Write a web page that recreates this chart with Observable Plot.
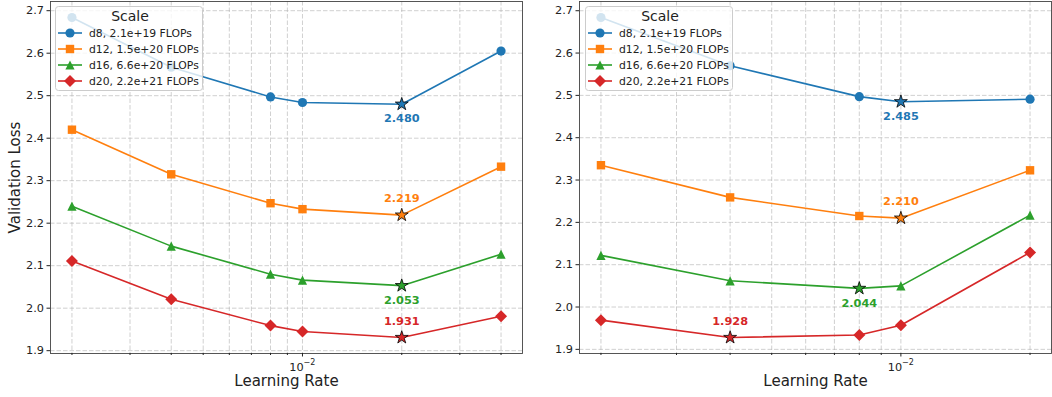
<!DOCTYPE html>
<html>
<head>
<meta charset="utf-8">
<script src="https://cdn.jsdelivr.net/npm/d3@7"></script>
<script src="https://cdn.jsdelivr.net/npm/@observablehq/plot@0.6"></script>
<style>
  body { margin: 0; background: #fff; }
  #fig { position: relative; width: 1052px; height: 397px; overflow: hidden; font-family: "DejaVu Sans", sans-serif; }
  .panel { position: absolute; top: 0; }
</style>
</head>
<body>
<div id="fig"></div>
<script>
// Model scales (legend entries), colours and marker shapes
const seriesLabels = ["d8, 2.1e+19 FLOPs", "d12, 1.5e+20 FLOPs", "d16, 6.6e+20 FLOPs", "d20, 2.2e+21 FLOPs"];
const seriesColors = ["#1f77b4", "#ff7f0e", "#2ca02c", "#d62728"];
const seriesShapes = ["circle", "square", "triangle", "diamond"];

// Left sweep: learning rates and validation loss per scale
const lrLeft = [0.002, 0.004, 0.008, 0.01, 0.02, 0.04];
const lossLeftD8  = [2.684, 2.567, 2.497, 2.484, 2.480, 2.605];
const lossLeftD12 = [2.420, 2.315, 2.247, 2.233, 2.219, 2.333];
const lossLeftD16 = [2.240, 2.146, 2.080, 2.066, 2.053, 2.127];
const lossLeftD20 = [2.111, 2.021, 1.959, 1.945, 1.931, 1.981];

// Right sweep
const lrRight = [0.002, 0.004, 0.008, 0.01, 0.02];
const lossRightD8  = [2.684, 2.570, 2.497, 2.485, 2.491];
const lossRightD12 = [2.335, 2.259, 2.215, 2.210, 2.323];
const lossRightD16 = [2.122, 2.062, 2.044, 2.050, 2.217];
const lossRightD20 = [1.969, 1.928, 1.934, 1.957, 2.129];

// Axis ticks: the labelled decade is written as base + exponent
const yTicks = [1.9, 2.0, 2.1, 2.2, 2.3, 2.4, 2.5, 2.6, 2.7];
const xMajorTicks = [0.01];
const xMajorBase = ["10"];
const xMajorExponent = ["−2"];

// Marker geometry (pixel sizes, independent of Plot's r)
const starR = 6.8;
const markerShapes = {
  circle:   { draw(c) { c.moveTo(4.6, 0); c.arc(0, 0, 4.6, 0, 2 * Math.PI); c.closePath(); } },
  square:   { draw(c) { c.rect(-4.2, -4.2, 8.4, 8.4); } },
  triangle: { draw(c) { c.moveTo(0, -4.6); c.lineTo(4.6, 4.6); c.lineTo(-4.6, 4.6); c.closePath(); } },
  diamond:  { draw(c) { c.moveTo(0, -6); c.lineTo(6, 0); c.lineTo(0, 6); c.lineTo(-6, 0); c.closePath(); } },
  star: {
    draw(c) {
      for (let i = 0; i < 10; ++i) {
        const a = -Math.PI / 2 + i * Math.PI / 5;
        const r = i % 2 ? starR * 0.382 : starR;
        const px = r * Math.cos(a), py = r * Math.sin(a);
        i ? c.lineTo(px, py) : c.moveTo(px, py);
      }
      c.closePath();
    }
  }
};

const gridStyle = { stroke: "#b0b0b0", strokeOpacity: 0.6, strokeDasharray: "4.5,2", strokeWidth: 1 };
const tickFont = 11.3;
const labelFont = 15;

function drawPanel({ lr, losses, left, width, marginLeft, marginRight, yLabel }) {
  const rows = losses.flatMap((vals, s) => vals.map((loss, i) => ({ lr: lr[i], loss, s, key: seriesLabels[s] })));
  const best = losses.map((vals, s) => {
    const i = d3.minIndex(vals);
    return rows.find(r => r.s === s && r.lr === lr[i]);
  });

  // 5% margins on both scales (log-space for x)
  const [x0, x1] = d3.extent(lr);
  const xp = Math.pow(x1 / x0, 0.05);
  const xDomain = [x0 / xp, x1 * xp];
  const [y0, y1] = d3.extent(rows, d => d.loss);
  const yp = (y1 - y0) * 0.05;
  const yDomain = [y0 - yp, y1 + yp];

  const xGridTicks = d3.scaleLog().domain(xDomain).ticks();
  const xMinorTicks = xGridTicks.filter(t => !xMajorTicks.some(m => Math.abs(m - t) < 1e-12));

  const marks = [
    Plot.gridY({ ticks: yTicks, ...gridStyle }),
    Plot.gridX({ ticks: xGridTicks, ...gridStyle }),
    Plot.line(rows, { x: "lr", y: "loss", z: "key", stroke: "key", strokeWidth: 1.6 }),
    ...seriesShapes.map((shape, s) =>
      Plot.dot(rows.filter(r => r.s === s && r !== best[s]), { x: "lr", y: "loss", fill: "key", symbol: markerShapes[shape] })
    ),
    Plot.dot(best, { x: "lr", y: "loss", fill: "key", stroke: "black", strokeWidth: 0.8, symbol: markerShapes.star }),
    Plot.text(best.filter(d => d.s === 0 || d.s === 2), {
      x: "lr", y: "loss", text: d => d.loss.toFixed(3), fill: "key", fontWeight: "bold", fontSize: 11.3, dy: 14.5
    }),
    Plot.text(best.filter(d => d.s === 1 || d.s === 3), {
      x: "lr", y: "loss", text: d => d.loss.toFixed(3), fill: "key", fontWeight: "bold", fontSize: 11.3, dy: -16.5
    }),
    Plot.frame({ stroke: "#444", strokeWidth: 0.9 }),
    Plot.axisY({ ticks: yTicks, tickSize: 3.5, tickPadding: 3, tickFormat: d3.format(".1f"), label: null, fontSize: tickFont }),
    Plot.axisX({ ticks: xMajorTicks, tickSize: 3.5, tickFormat: () => "", label: null }),
    Plot.axisX({ ticks: xMinorTicks, tickSize: 2, tickFormat: () => "", label: null }),
    // decade label: base and raised exponent
    Plot.text(xMajorTicks, {
      x: d => d, frameAnchor: "bottom", lineAnchor: "middle", textAnchor: "middle",
      text: (d, i) => xMajorBase[i], dx: -6, dy: 13.5, fontSize: tickFont, fill: "#222"
    }),
    Plot.text(xMajorTicks, {
      x: d => d, frameAnchor: "bottom", lineAnchor: "middle", textAnchor: "middle",
      text: (d, i) => xMajorExponent[i], dx: 7, dy: 8.5, fontSize: 8, fill: "#222"
    }),
    Plot.text(["Learning Rate"], {
      frameAnchor: "bottom", lineAnchor: "middle", textAnchor: "middle", dy: 28,
      fontSize: labelFont, text: d => d, fill: "#222"
    })
  ];
  if (yLabel) {
    marks.push(Plot.text([yLabel], {
      frameAnchor: "left", lineAnchor: "middle", textAnchor: "middle", rotate: -90, dx: -35,
      fontSize: labelFont, text: d => d, fill: "#222"
    }));
  }

  const chart = Plot.plot({
    width,
    height: 397,
    marginLeft,
    marginRight,
    marginTop: 1,
    marginBottom: 44,
    style: { fontFamily: "DejaVu Sans", fontSize: tickFont + "px", color: "#222", background: "transparent" },
    x: { type: "log", domain: xDomain },
    y: { domain: yDomain },
    color: { domain: seriesLabels, range: seriesColors },
    marks
  });
  const holder = document.createElement("div");
  holder.className = "panel";
  holder.style.left = left + "px";
  holder.appendChild(chart);
  document.getElementById("fig").appendChild(holder);
}

function drawLegend(left) {
  const svg = d3.create("svg")
    .attr("width", 150).attr("height", 86)
    .style("position", "absolute").style("left", left + "px").style("top", "6px")
    .style("font-family", "DejaVu Sans");
  svg.append("rect")
    .attr("x", 0.5).attr("y", 0.5).attr("width", 147).attr("height", 84).attr("rx", 3)
    .attr("fill", "white").attr("fill-opacity", 0.8).attr("stroke", "#cccccc");
  svg.append("text")
    .attr("x", 75).attr("y", 10.5).attr("dy", "0.35em").attr("text-anchor", "middle")
    .attr("font-size", 14).attr("fill", "#222").text("Scale");
  seriesLabels.forEach((label, i) => {
    const cy = 27 + i * 16;
    const g = svg.append("g");
    g.append("line").attr("x1", 3).attr("x2", 27).attr("y1", cy).attr("y2", cy)
      .attr("stroke", seriesColors[i]).attr("stroke-width", 1.6);
    g.append("path").attr("transform", `translate(15,${cy})`)
      .attr("d", d3.symbol(markerShapes[seriesShapes[i]])()).attr("fill", seriesColors[i]);
    g.append("text").attr("x", 34).attr("y", cy).attr("dy", "0.35em")
      .attr("font-size", 10.8).attr("fill", "#222").text(label);
  });
  document.getElementById("fig").appendChild(svg.node());
}

drawPanel({
  lr: lrLeft,
  losses: [lossLeftD8, lossLeftD12, lossLeftD16, lossLeftD20],
  left: 0, width: 528, marginLeft: 50, marginRight: 6,
  yLabel: "Validation Loss"
});
drawPanel({
  lr: lrRight,
  losses: [lossRightD8, lossRightD12, lossRightD16, lossRightD20],
  left: 528, width: 524, marginLeft: 51, marginRight: 1,
  yLabel: null
});
drawLegend(55);
drawLegend(585);
</script>
</body>
</html>
